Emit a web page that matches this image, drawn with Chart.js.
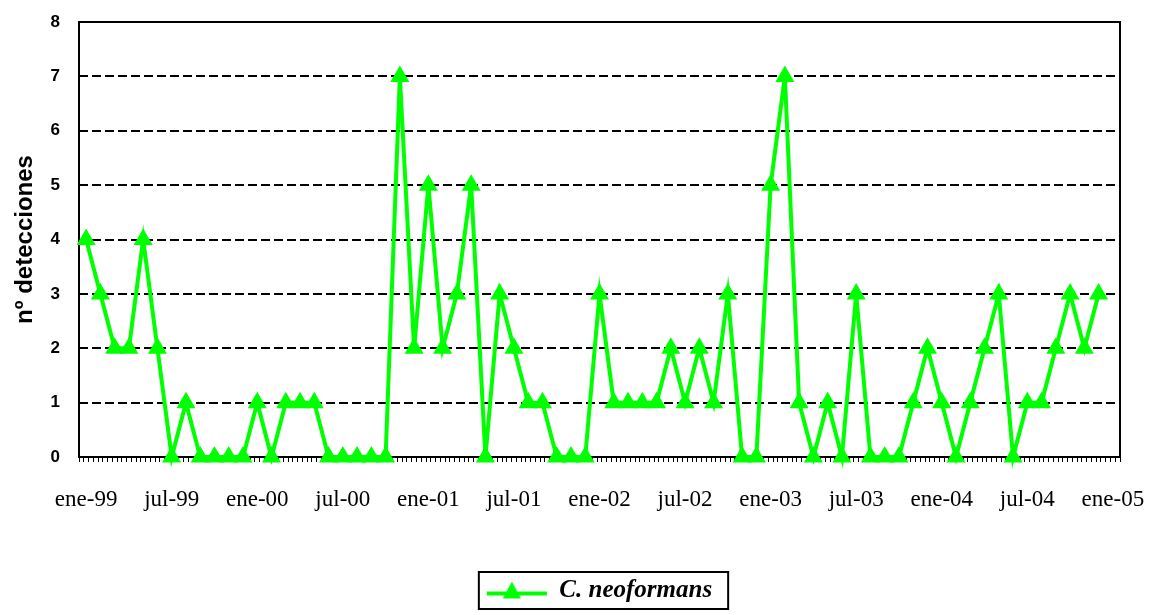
<!DOCTYPE html>
<html lang="es">
<head>
<meta charset="utf-8">
<title>C. neoformans</title>
<script src="https://cdn.jsdelivr.net/npm/chart.js@4.4.1/dist/chart.umd.min.js"></script>
<style>
  html, body { margin: 0; padding: 0; background: #fff; }
  #wrap { width: 1152px; height: 615px; position: relative; }
</style>
</head>
<body>
<div id="wrap"><canvas id="grafico"></canvas></div>
<script>
// meses y años del eje X (ene-99 ... ene-05)
const meses = ['ene', 'feb', 'mar', 'abr', 'may', 'jun', 'jul', 'ago', 'sep', 'oct', 'nov', 'dic'];
const anios = ['99', '00', '01', '02', '03', '04', '05'];

// nº de detecciones mensuales, ene-99 a dic-04
const cNeoformans = [
    4, 3, 2, 2, 4, 2, 0, 1, 0, 0, 0, 0,   // 1999
    1, 0, 1, 1, 1, 0, 0, 0, 0, 0, 7, 2,   // 2000
    5, 2, 3, 5, 0, 3, 2, 1, 1, 0, 0, 0,   // 2001
    3, 1, 1, 1, 1, 2, 1, 2, 1, 3, 0, 0,   // 2002
    5, 7, 1, 0, 1, 0, 3, 0, 0, 0, 1, 2,   // 2003
    1, 0, 1, 2, 3, 0, 1, 1, 2, 3, 2, 3    // 2004
];

// eje Y
const yMin = 0, yMax = 8, yPaso = 1;

// categorías: todos los meses + ene-05 vacío al final
const categorias = [];
anios.forEach(a => meses.forEach(m => categorias.push(m + '-' + a)));
categorias.length = 73;

const verde = '#00FF00';

// icono de la leyenda: línea con triángulo (estilo Excel)
function iconoLeyenda() {
    const c = document.createElement('canvas');
    c.width = 62; c.height = 20;
    const g = c.getContext('2d');
    g.strokeStyle = verde;
    g.lineWidth = 4;
    g.beginPath(); g.moveTo(1, 13); g.lineTo(61, 13); g.stroke();
    g.fillStyle = verde;
    g.beginPath(); g.moveTo(26, 1); g.lineTo(35, 18); g.lineTo(17, 18); g.closePath(); g.fill();
    return c;
}

// marco del área de trazado y recuadro de la leyenda
const marco = {
    id: 'marco',
    beforeDatasetsDraw(chart) {
        const { ctx, chartArea: a } = chart;
        ctx.save();
        ctx.strokeStyle = '#000';
        ctx.lineWidth = 2;
        ctx.strokeRect(a.left, a.top, a.right - a.left, a.bottom - a.top);
        ctx.restore();
    },
    afterDraw(chart) {
        const hb = chart.legend.legendHitBoxes[0];
        if (!hb) return;
        const ctx = chart.ctx;
        ctx.save();
        ctx.strokeStyle = '#000';
        ctx.lineWidth = 2;
        ctx.strokeRect(hb.left - 8, hb.top - 6, hb.width + 24, hb.height + 12);
        ctx.restore();
    }
};

new Chart(document.getElementById('grafico'), {
    type: 'line',
    data: {
        labels: categorias,
        datasets: [{
            label: 'C. neoformans',
            data: cNeoformans,
            borderColor: verde,
            backgroundColor: verde,
            borderWidth: 4,
            pointStyle: 'triangle',
            pointRadius: 9,
            pointBorderWidth: 2,
            tension: 0,
            fill: false,
            clip: false
        }]
    },
    options: {
        responsive: true,
        maintainAspectRatio: false,
        animation: false,
        layout: { autoPadding: false, padding: { left: 0, right: 32, top: 22, bottom: 2 } },
        plugins: {
            tooltip: { enabled: false },
            legend: {
                position: 'bottom',
                fullSize: false,
                labels: {
                    usePointStyle: true,
                    pointStyle: iconoLeyenda(),
                    pointStyleWidth: 60,
                    padding: 8,
                    color: '#000',
                    font: { family: 'Liberation Serif', size: 25, weight: 'bold', style: 'italic' }
                }
            }
        },
        scales: {
            x: {
                type: 'category',
                offset: true,
                weight: 1,
                grid: { display: false, drawTicks: false },
                border: { display: false },
                ticks: {
                    autoSkip: false,
                    maxRotation: 0,
                    padding: 24,
                    color: '#000',
                    font: { family: 'Liberation Serif', size: 23 },
                    callback: function (v, i) { return i % 6 === 0 ? this.getLabelForValue(v) : ''; }
                },
                afterFit(s) { s.height = 108; s.paddingLeft = 0; s.paddingRight = 0; }
            },
            // marcas menores del eje X
            xMarcas: {
                type: 'linear',
                position: 'bottom',
                weight: -1,
                min: 0,
                max: 73,
                grid: { drawOnChartArea: false, color: '#000', lineWidth: 1, tickLength: 5 },
                border: { display: false },
                ticks: { display: false, stepSize: 1 / 3 }
            },
            y: {
                min: yMin,
                max: yMax,
                grid: {
                    color: ctx => (ctx.tick.value === yMin || ctx.tick.value === yMax) ? 'rgba(0,0,0,0)' : '#000',
                    lineWidth: 2,
                    drawTicks: false
                },
                border: { display: false, dash: [9, 4] },
                ticks: {
                    stepSize: yPaso,
                    padding: 19,
                    color: '#000',
                    font: { family: 'Liberation Sans', size: 17, weight: 'bold' }
                },
                title: {
                    display: true,
                    text: 'nº detecciones',
                    color: '#000',
                    padding: { top: 11, bottom: 0 },
                    font: { family: 'Liberation Sans', size: 24, weight: 'bold' }
                },
                afterFit(s) { s.width = 79; s.paddingTop = 0; }
            }
        }
    },
    plugins: [marco]
});
</script>
</body>
</html>
